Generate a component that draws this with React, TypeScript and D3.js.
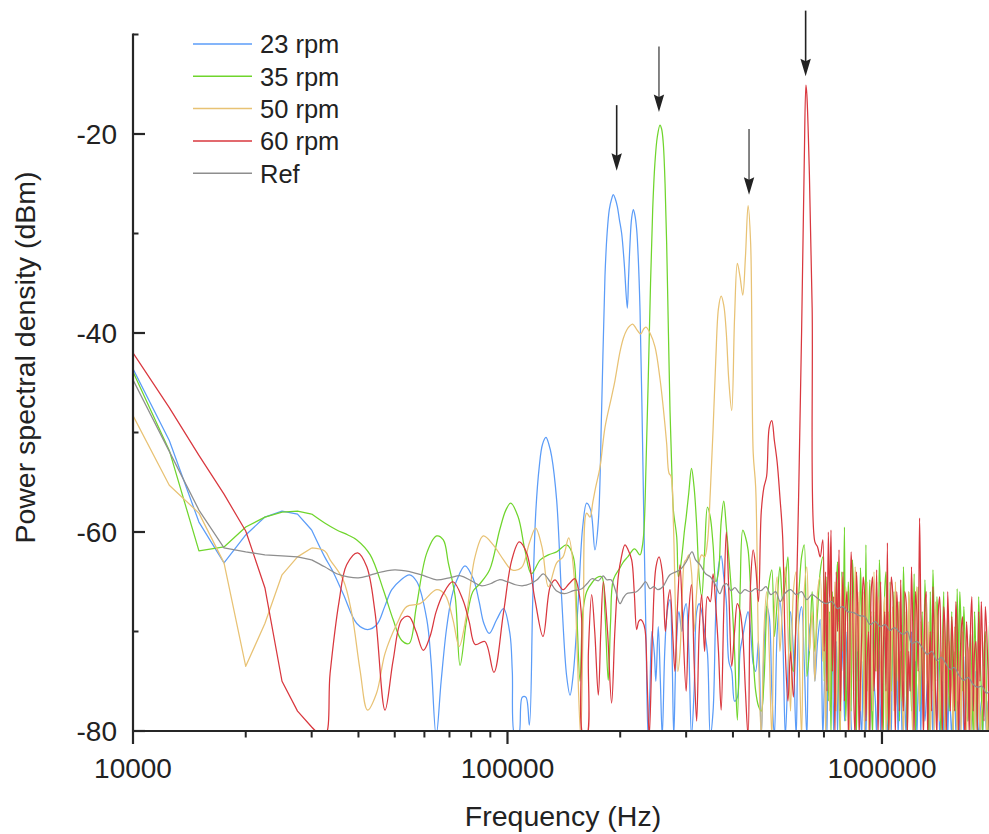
import React from "react";
import * as d3 from "d3";

// ---------- data (frequency in kHz, PSD in dBm) ----------
const hfKHz = [
  300, 305, 310, 315, 320, 325, 330, 336, 342, 348,
  354, 360, 366, 372, 378, 384, 390, 397, 404, 411,
  418, 425, 432, 439, 446, 453, 460, 468, 476, 484,
  492, 500, 508, 516, 525, 534, 543, 552, 561, 570,
  580, 590, 600, 610, 620, 630, 640, 651, 662, 673,
  684, 695, 707, 719, 731, 743, 755, 768, 781, 794,
  807, 820, 834, 848, 862, 876, 891, 906, 921, 936,
  952, 968, 984, 1000, 1017, 1034, 1051, 1068, 1086, 1104,
  1122, 1141, 1160, 1179, 1199, 1219, 1239, 1260, 1281, 1302,
  1324, 1346, 1368, 1391, 1414, 1438, 1462, 1486, 1511, 1536,
  1562, 1588, 1614, 1641, 1668, 1696, 1724, 1753, 1782, 1812,
  1842, 1873, 1904, 1936, 1968, 2000,
];
// in-between frequencies used for the dense upper band
const midKHz = [
  701, 713, 725, 737, 749, 761, 774, 787, 800, 813,
  827, 841, 855, 869, 883, 898, 913, 928, 944, 960,
  976, 992, 1008, 1025, 1042, 1059, 1077, 1095, 1113, 1131,
  1150, 1169, 1189, 1209, 1229, 1249, 1270, 1291, 1313, 1335,
  1357, 1379, 1402, 1426, 1450, 1474, 1498, 1523, 1549, 1575,
  1601, 1627, 1654, 1682, 1710, 1738, 1767, 1797, 1827, 1857,
  1888, 1920, 1952, 1984,
];

const rpm23Low: [number, number][] = [
  [10, -43.6], [12.5, -50.8], [15, -59.0], [17.5, -63.1], [20, -60.3], [22.5, -58.5], [25, -57.9], [27.5, -58.2],
  [30, -59.8], [32.5, -62.5], [34, -63.8], [36.4, -66.2], [39.6, -69.2], [42.3, -69.8], [44.8, -69.3], [47, -67.5],
  [49.1, -65.8], [52, -64.8], [54.7, -64.3], [57.3, -65.0], [60.9, -68.8], [62.5, -73], [64.5, -80.5], [66.5, -75],
  [68.7, -69.8], [71, -66.5], [73.3, -64.8], [77, -63.4], [81.2, -64.8], [84, -67], [86.5, -69.2], [89.4, -70.2],
  [93.6, -68.8], [97.6, -67.7], [101.5, -70.2], [103, -74], [104.7, -80.5], [107, -80.5], [109.5, -76.6], [112, -76.6],
  [114.4, -79.4], [116.8, -66.8], [119, -58], [121.6, -53.4], [124, -51.2], [126.7, -50.5], [129, -51.2], [131.2, -52.4],
  [135.3, -56.8], [139.6, -66.8], [143.9, -74.5], [146.9, -76.4], [149.9, -74.2], [154.6, -66.8], [158.8, -59.5], [162.7, -57.1],
  [166.8, -57.8], [171.2, -61.8], [174.8, -59.0], [178.4, -47.7], [182.1, -34.3], [184.5, -30], [187, -27.6], [189.5, -26.6],
  [191.7, -26.1], [194, -26.5], [196.5, -27.3], [199, -28.6], [201.8, -30.0], [205, -33], [208.9, -37.5], [210.5, -34.5],
  [212.4, -31], [214.5, -28.5], [216.8, -27.6], [219, -28.2], [221.3, -29.6], [223.5, -32.5], [225.9, -37.7], [228.5, -47],
  [231.5, -59.8], [234.5, -71], [237.3, -80.5], [240, -76], [243, -70], [246.7, -72.2], [249, -75], [252.7, -69.5],
  [256, -75], [259, -80.5], [263, -72], [267, -68], [271.6, -66.8], [275, -72], [278, -80.5], [282, -72],
  [287, -68], [292, -70], [296, -68],
];
const rpm23High = [
  -67.2, -72, -80.5, -76, -68, -67.2, -68, -70, -72.2, -80.5,
  -78, -68, -63.5, -62.4, -64.5, -67, -73, -74, -77, -76.6,
  -72, -70.5, -69, -68, -70, -73.2, -74, -71, -80.5, -72,
  -67.5, -68.5, -76, -80.5, -70, -67, -70.5, -80.5, -74, -68,
  -72, -80.5, -69, -67.5, -73, -80.5, -70, -68.5, -75, -71,
  -68.8, -80.5, -72, -69, -76, -80.5, -71, -68.8, -74, -79,
  -70, -75, -80.5, -72, -69.5, -78, -73, -80.5, -71, -68.5,
  -75, -80.5, -72, -76, -70.5, -80.5, -74, -71, -78, -80.5,
  -72.5, -75, -80.5, -73, -70, -77, -80.5, -74, -71, -79,
  -75, -72, -80.5, -76, -73, -78, -80.5, -74, -76.5, -80.5,
  -73, -77, -80.5, -75, -72.5, -79, -80.5, -76, -74, -80.5,
  -77, -75, -80.5, -78, -76, -80.5,
];
const rpm23Mid = [
  -76, -80.5, -72, -70, -75, -80.5, -72, -70, -74, -78,
  -72, -80.5, -75, -72, -80.5, -76, -74, -80.5, -72, -77,
  -75, -80.5, -73, -76, -78, -80.5, -75, -73, -76, -80.5,
  -77, -74, -76, -80.5, -73, -76, -80.5, -75, -77, -80.5,
  -76, -74, -79, -80.5, -75, -77, -80.5, -78, -76, -80.5,
  -78, -76, -80.5, -77, -75, -78, -80.5, -77, -79, -80.5,
  -78, -77, -80.5, -78,
];

const rpm35Low: [number, number][] = [
  [10, -43.9], [12.5, -51.8], [15, -61.9], [17.5, -61.5], [20, -59.5], [22.5, -58.5], [25, -58.0], [27.5, -57.9],
  [30, -58.2], [32.5, -59.1], [35, -59.8], [37.5, -60.3], [39.6, -60.8], [43, -62.3], [46.6, -65.8], [49.5, -68.8],
  [52.2, -70.9], [54.6, -71.2], [57.1, -67.5], [60.9, -62.1], [64.7, -60.4], [67.4, -60.8], [69.5, -63.1], [72.5, -66.5],
  [74.7, -73.4], [77.8, -68.8], [80.8, -66], [84.4, -65.2], [89.6, -63.8], [95.3, -59.8], [99, -57.8], [102, -57.1],
  [106.8, -58.5], [111.3, -61.8], [115.8, -64.2], [122.3, -62.8], [128.6, -62.3], [135.3, -62], [143.9, -61.3], [149.9, -62.5],
  [153, -68], [156.2, -75], [159, -68], [162.7, -66], [168.9, -65], [173, -64.6], [178.4, -64.5], [182, -68],
  [185.8, -74.9], [188.5, -69], [191.7, -64.8], [199.7, -63.6], [204, -63], [209.5, -62.5], [218.4, -61.7], [225.9, -62.3],
  [229, -61.5], [231.5, -59.8], [234.5, -53], [237.7, -44.4], [241, -35], [244.2, -27.6], [247.5, -23], [251.2, -20.3],
  [255.4, -19.1], [258, -19.5], [260.6, -20.9], [263.5, -25], [266.1, -31], [269, -40], [271.6, -47.7], [274.5, -53.5],
  [277.3, -57.8], [283.1, -60.5], [286, -64.5], [289, -63.8], [293, -62], [297, -59.8],
];
const rpm35High = [
  -58.5, -56.0, -53.6, -55.5, -59.3, -64.5, -66.5, -62, -57.5, -58.5,
  -61.3, -65, -64, -59, -56.9, -59.5, -62.5, -66.5, -72, -78.9,
  -66, -59.8, -60.5, -61.8, -66, -72.5, -76, -77.5, -78, -75,
  -68, -65, -63.8, -70.5, -67, -63.5, -67, -65, -62.5, -72,
  -74, -69, -66, -62.5, -61.3, -74.5, -72, -66, -72, -68,
  -64, -62.5, -70, -77, -80.5, -70, -66, -76, -64, -59.5,
  -74, -69, -62.8, -71, -67, -63.6, -72, -61.3, -70, -76,
  -68, -65, -62.8, -73, -66, -76, -65, -70, -78, -67,
  -72, -63.5, -74, -66, -78, -64.2, -71, -78, -68, -64.8,
  -76, -66, -63.8, -75, -70, -80.5, -66, -74, -78, -68,
  -72, -65.7, -66, -76, -71.5, -79, -70, -80.5, -73, -66.5,
  -76, -72, -78, -69, -76, -72,
];
const rpm35Mid = [
  -75, -64.5, -68, -66, -78, -63, -80.5, -72, -79, -65,
  -78, -66.5, -80.5, -75, -68, -79, -76, -64.8, -80.5, -74,
  -77, -67, -80.5, -64, -80.5, -76, -66, -71, -79, -77,
  -69, -80.5, -70, -73, -80.5, -65.5, -74, -79, -70, -80.5,
  -76, -69, -66.5, -74, -72, -80.5, -68, -75, -80.5, -78,
  -74, -70, -67.5, -75, -73, -76, -68, -80.5, -72, -80.5,
  -70, -80.5, -73, -80.5,
];

const rpm50Low: [number, number][] = [
  [10, -48.3], [12.5, -55.3], [15, -58.1], [17.5, -63.1], [20, -73.5], [22.5, -69.2], [25, -64.3], [27.5, -62.5],
  [30, -61.6], [32.5, -61.9], [33.6, -62.8], [36.4, -64.8], [38.4, -68.2], [40.4, -73.9], [42.3, -77.9], [44.7, -76.2],
  [47.1, -72.2], [50.7, -69.2], [53.8, -67.5], [58.4, -67.2], [64.7, -65.8], [68.1, -66.3], [71.5, -68.8], [74.3, -71.5],
  [77.8, -68.2], [81.9, -62.5], [86.2, -60.4], [91.6, -61.3], [97.6, -62.8], [102.7, -63.8], [108.9, -63.6], [114.4, -61.1],
  [118.9, -59.6], [123.6, -61.5], [128.6, -65.5], [135.3, -63.1], [140.7, -62.5], [145.7, -60.6], [150.7, -64.5], [153.5, -72],
  [156.8, -80.5], [159.5, -68], [162.7, -58.1], [166.1, -58.5], [169, -57], [172, -55.5], [176.6, -53.5], [182.1, -49.5],
  [189.7, -46.4], [193.6, -44.8], [199.7, -41.9], [204, -40.5], [208.2, -39.7], [212, -39.3], [216, -39.1], [221, -39.6],
  [226.8, -40.1], [231, -39.6], [234.3, -39.4], [240.2, -40], [247.7, -41.4], [255.4, -44.6], [260.6, -47.5], [266.1, -51.1],
  [270, -54.1], [273.4, -54.4], [277.3, -59], [281, -68], [285, -74], [289, -72], [293, -66], [297, -63],
];
const rpm50High = [
  -62.8, -62.3, -64, -70, -66, -63, -62.3, -62.5, -61, -56,
  -49.7, -42.6, -37.5, -36.3, -37.2, -40, -44.8, -47.8, -38.5, -33.0,
  -34.4, -36.2, -32.3, -27.2, -31.0, -52, -55.5, -72, -80.5, -70,
  -66, -72, -80.5, -68, -64.5, -72, -67, -63.5, -70, -78,
  -66, -64, -71, -80.5, -66, -63.5, -72, -68, -75, -66,
  -64.5, -73, -80.5, -67, -64, -70, -78, -69, -64.5, -75,
  -68, -80.5, -66, -63.5, -72, -78, -66, -69, -80.5, -68,
  -64, -74, -70, -78, -66.5, -73, -80.5, -67.5, -65, -75,
  -70, -80.5, -68, -66, -76, -71, -65.5, -78, -72, -68,
  -75, -80.5, -70, -67, -76, -72, -69, -78, -71, -74,
  -69.5, -80.5, -72, -70, -77, -73, -80.5, -71, -75, -72,
  -78, -73.5, -80.5, -74, -77, -80.5,
];
const rpm50Mid = [
  -66, -72, -78, -71, -65, -74, -80.5, -70, -65.5, -74,
  -70, -76, -67, -66, -72, -80.5, -65, -73, -78, -70,
  -66.5, -74, -69, -80.5, -68, -72, -78, -71, -67, -76,
  -72, -75, -70, -80.5, -68, -73, -69, -80.5, -72, -69,
  -75, -80.5, -71, -79, -74, -80.5, -73, -76.5, -80.5, -73,
  -76, -80.5, -74, -80.5, -71.5, -76, -80.5, -74, -80.5, -77,
  -75, -78, -80.5, -75,
];

const rpm60Low: [number, number][] = [
  [10, -42.0], [12.5, -47.5], [15, -52.3], [17.5, -56.2], [20, -59.9], [22.5, -65.6], [25, -75], [27.5, -78],
  [30, -79.6], [32.5, -80.5], [33.6, -74.2], [35.5, -67], [37.2, -63.3], [39.8, -62.1], [42.1, -63.5], [44.3, -68.1],
  [47.1, -77.9], [49.5, -72.9], [52.2, -68.8], [54.6, -68.5], [57, -70], [59.6, -71.9], [62.1, -70.5], [64.5, -68],
  [67.4, -66.2], [71.5, -65.0], [76, -66.8], [79, -69], [82, -71.3], [87, -71], [92, -74.1], [97.5, -68.2],
  [102.7, -62.8], [107.5, -61.0], [112.5, -62.1], [118.4, -66.8], [124.4, -70.5], [130, -65.5], [133.9, -64.8], [140.6, -65.8],
  [146, -65.2], [151.4, -64.7], [155, -66], [157.8, -68.8], [159.3, -80.5], [162.7, -80.5], [164.5, -72], [167.8, -66.3],
  [171, -70], [174.8, -76.4], [177.5, -70], [180.3, -65], [185, -70], [189.7, -77.2], [193.5, -70], [197.6, -64.5],
  [201.5, -62.5], [205.9, -61.3], [210, -61.8], [214.6, -62.8], [218, -66], [221.3, -69.8], [224, -69], [226.8, -68.8],
  [229.5, -69], [232.9, -69.8], [236, -75], [239.1, -80.5], [244, -70], [249.2, -63.5], [254, -62.5], [259, -64],
  [264, -70], [268, -67], [271.6, -65.8], [276, -70], [280, -74], [284, -68], [288.8, -63.3], [293, -68],
];
const rpm60High = [
  -76, -68, -65.3, -73, -79, -70, -66.3, -72, -66.5, -67,
  -64.2, -67.5, -72, -77.9, -68, -60, -66, -73.5, -70, -67.2,
  -68, -70.4, -76, -80.5, -65, -61.8, -63.5, -67, -58, -55.5,
  -54.4, -49.5, -48.8, -50.8, -53, -56.5, -60.5, -72, -77, -72,
  -76.6, -68, -55, -40, -23, -16, -24, -37.5, -61, -61.5,
  -62.5, -60.8, -64, -60, -59.8, -66.5, -64, -61.8, -70, -77,
  -66, -74, -65.5, -80.5, -68, -75, -64.5, -79, -70, -66,
  -76, -63.8, -71, -80.5, -68, -61.1, -73, -66, -80.5, -69,
  -64.8, -78, -67, -72, -63.5, -80.5, -68, -58.6, -74, -67.5,
  -80.5, -70, -65.5, -77, -68, -73, -67.5, -80.5, -71, -68.5,
  -78, -70, -75, -68.5, -80.5, -72, -69.5, -78, -71, -68,
  -67, -79, -70, -80.5, -72, -76,
];
const rpm60Mid = [
  -72, -76, -67, -74, -80.5, -70, -78, -64, -68, -80.5,
  -62, -77, -64, -80.5, -70, -66, -73, -80.5, -64.5, -72,
  -80.5, -65, -72, -76, -80.5, -64.5, -72, -66, -78, -74,
  -66, -80.5, -76, -70, -66, -74, -68, -80.5, -66, -74,
  -78, -71, -80.5, -66.5, -80.5, -70, -66, -78, -72, -67,
  -80.5, -70, -78, -69, -80.5, -66.5, -72, -80.5, -75, -72,
  -67.5, -74, -68, -80.5,
];
const rpm60Peak: [number, number][] = [[626.5, -15.1]];

const refSeries: [number, number][] = [
  [10, -44.7], [12.5, -51.9], [15, -57.8], [17.5, -61.6], [20, -62.0], [22.5, -62.3], [25, -62.4], [27.5, -62.5],
  [30, -62.8], [32.5, -63.5], [35, -64.2], [37.5, -64.5], [40, -64.6], [42.5, -64.4], [45, -64.1], [50, -63.8],
  [55, -64.0], [60, -64.4], [64.7, -64.8], [70, -64.6], [75, -64.4], [80, -64.9], [85, -65.4], [90, -65.2],
  [95, -64.8], [100, -65.0], [105, -65.3], [110, -65.4], [115, -65.2], [120, -64.8], [124.6, -64.2], [130, -65.0],
  [135, -65.9], [142, -66.2], [150, -65.9], [158, -65.7], [163, -65.2], [168, -64.7], [175, -64.9], [180, -64.4],
  [184, -64.8], [189, -64.8], [194, -65.8], [199.7, -67.2], [204, -66.6], [208, -66.2], [215, -66.1], [221, -66.0],
  [228, -65.5], [234, -65.0], [240, -65.7], [246, -65.5], [252, -65.8], [260, -65.5], [271.6, -64.3], [288.8, -63.8],
  [300, -63], [311, -62.0], [318, -62.8], [327, -63.3], [338, -64.2], [348, -64.5], [358, -65.2], [369, -66.2],
  [377, -65.4], [385, -65.2], [395, -65.9], [405, -65.6], [418, -66.2], [430, -65.8], [445, -66.0], [460, -65.7],
  [475, -65.9], [490, -65.5], [505, -66.3], [520, -66.0], [535, -67.0], [550, -66.2], [570, -65.8], [590, -66.3],
  [610, -66.0], [630, -66.8], [650, -66.3], [670, -66.6], [690, -67.0], [710, -67.2], [735, -67.0], [760, -67.7],
  [785, -67.5], [810, -68.0], [840, -68.1], [870, -68.4], [900, -68.5], [930, -69.3], [960, -69.0], [990, -69.5],
  [1020, -69.3], [1050, -69.9], [1080, -69.6], [1110, -70.0], [1140, -70.3], [1170, -70.0], [1200, -71.2], [1240, -71.0],
  [1280, -71.6], [1320, -72.3], [1360, -72.0], [1400, -72.9], [1440, -72.6], [1480, -73.2], [1520, -73.8], [1560, -73.6],
  [1600, -74.3], [1650, -74.9], [1700, -74.6], [1750, -75.3], [1800, -75.6], [1850, -75.5], [1900, -76.2], [1950, -76.0],
  [2000, -76.5],
];

const seriesNames = ["23 rpm", "35 rpm", "50 rpm", "60 rpm", "Ref"];
const seriesColors = ["#5b9cf8", "#6fd52c", "#e8c274", "#d9373e", "#8e8e8e"];

const xMajorTicks = [10000, 100000, 1000000];
const xMajorLabels = ["10000", "100000", "1000000"];
const xMinorTicks = [
  20000, 30000, 40000, 50000, 60000, 70000, 80000, 90000,
  200000, 300000, 400000, 500000, 600000, 700000, 800000, 900000,
];
const yMajorTicks = [-20, -40, -60, -80];
const yMajorLabels = ["-20", "-40", "-60", "-80"];
const yMinorTicks = [-10, -30, -50, -70];

const arrowKHz = [195.7, 253.8, 441.6, 625.4];
const arrowTop = [-17.1, -11.2, -19.5, -7.6];
const arrowTip = [-23.7, -17.8, -26.1, -14.2];
const arrowLineColors = ["#222222", "#666666", "#666666", "#222222"];

// ---------- build series ----------
function build(low: [number, number][], high: number[], mid: number[], extra: [number, number][] = []) {
  const pts: [number, number][] = low.concat(
    hfKHz.map((f, i) => [f, high[i]] as [number, number]),
    midKHz.map((f, i) => [f, mid[i]] as [number, number]),
    extra
  );
  return pts.sort((a, b) => a[0] - b[0]);
}

const allSeries: [number, number][][] = [
  build(rpm23Low, rpm23High, rpm23Mid),
  build(rpm35Low, rpm35High, rpm35Mid),
  build(rpm50Low, rpm50High, rpm50Mid),
  build(rpm60Low, rpm60High, rpm60Mid, rpm60Peak),
  refSeries,
];

const W = 989;
const H = 834;
const left = 133;
const bottom = 731;
const top = 34.5;
const SPLIT_KHZ = 30; // straight segments below this frequency, smooth above

const FONT = "'Liberation Sans', Arial, Helvetica, sans-serif";
const AX = "#262626";

export default function App() {
  const x = d3.scaleLog().domain([10000, 2000000]).range([left, 994.7]);
  const y = d3.scaleLinear().domain([-80, -10]).range([bottom, top]);
  const straight = d3
    .line<[number, number]>()
    .x((d) => x(d[0] * 1000))
    .y((d) => y(d[1]));
  const smooth = d3
    .line<[number, number]>()
    .x((d) => x(d[0] * 1000))
    .y((d) => y(d[1]))
    .curve(d3.curveCatmullRom.alpha(0.5));

  const pathFor = (s: [number, number][]) => {
    let k = 0;
    while (k < s.length - 1 && s[k + 1][0] <= SPLIT_KHZ) k++;
    const a = straight(s.slice(0, k + 1)) || "";
    const b = smooth(s.slice(k)) || "";
    return a + b;
  };

  return (
    <div style={{ position: "absolute", left: 0, top: 0 }}>
      <svg width={W} height={H} style={{ display: "block", background: "#fff" }} fontFamily={FONT}>
        <defs>
          <clipPath id="plotClip">
            <rect x={left} y={0} width={W - left + 10} height={bottom} />
          </clipPath>
        </defs>

        <g clipPath="url(#plotClip)">
          {allSeries.map((s, i) => (
            <path
              key={seriesNames[i]}
              d={pathFor(s)}
              fill="none"
              stroke={seriesColors[i]}
              strokeWidth={1.25}
              strokeLinejoin="round"
            />
          ))}
        </g>

        {/* arrows */}
        {arrowKHz.map((f, i) => {
          const ax = x(f * 1000);
          const ty = y(arrowTip[i]);
          const sy = y(arrowTop[i]);
          return (
            <g key={"arr" + i}>
              <line x1={ax} x2={ax} y1={sy} y2={ty - 12} stroke={arrowLineColors[i]} strokeWidth={1.6} />
              <path
                d={`M${ax - 5.2},${ty - 17.5} L${ax},${ty - 15} L${ax + 5.2},${ty - 17.5} L${ax},${ty} Z`}
                fill="#222"
              />
            </g>
          );
        })}

        {/* axes */}
        <line x1={left} x2={W + 5} y1={bottom} y2={bottom} stroke={AX} strokeWidth={2.2} />
        <line x1={left} x2={left} y1={top - 1} y2={bottom} stroke={AX} strokeWidth={2.2} />

        {xMajorTicks.map((t, i) => (
          <g key={"xm" + t}>
            <line x1={x(t)} x2={x(t)} y1={bottom} y2={bottom + 13} stroke={AX} strokeWidth={2.2} />
            <text x={x(t)} y={777.5} textAnchor="middle" fontSize={28} fill="#222">
              {xMajorLabels[i]}
            </text>
          </g>
        ))}
        {xMinorTicks.map((t) => (
          <line key={"xn" + t} x1={x(t)} x2={x(t)} y1={bottom} y2={bottom + 6.5} stroke={AX} strokeWidth={2} />
        ))}

        {yMajorTicks.map((t, i) => (
          <g key={"ym" + t}>
            <line x1={left} x2={left + 12} y1={y(t)} y2={y(t)} stroke={AX} strokeWidth={2.2} />
            <text x={117} y={y(t) + 10} textAnchor="end" fontSize={28} fill="#222">
              {yMajorLabels[i]}
            </text>
          </g>
        ))}
        {yMinorTicks.map((t) => (
          <line key={"yn" + t} x1={left} x2={left + 5.5} y1={y(t)} y2={y(t)} stroke={AX} strokeWidth={2} />
        ))}

        {/* axis titles */}
        <text x={563} y={826} textAnchor="middle" fontSize={28.5} fill="#222">
          Frequency (Hz)
        </text>
        <text transform="translate(35,357.5) rotate(-90)" textAnchor="middle" fontSize={28.5} fill="#222">
          Power spectral density (dBm)
        </text>

        {/* legend */}
        {seriesNames.map((n, i) => {
          const ly = 44 + i * 32.3;
          return (
            <g key={"lg" + n}>
              <line x1={193} x2={252} y1={ly} y2={ly} stroke={seriesColors[i]} strokeWidth={1.5} />
              <text x={260} y={ly + 9.3} fontSize={25.5} fill="#222">
                {n}
              </text>
            </g>
          );
        })}
      </svg>
    </div>
  );
}
